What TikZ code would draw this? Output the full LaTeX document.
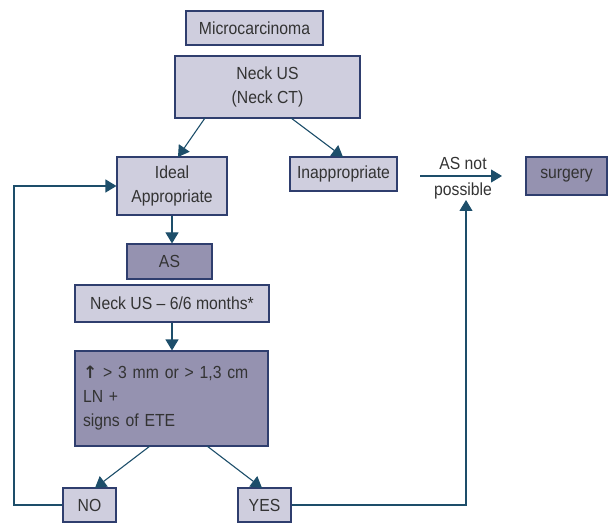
\documentclass[tikz,border=0pt]{standalone}
\usepackage{fontspec}
\setmainfont{Liberation Sans}[FakeStretch=0.9]
\newfontfamily\arrowfont{DejaVu Sans}
\usetikzlibrary{arrows.meta}
\definecolor{lightbox}{HTML}{CFCEDE}
\definecolor{darkbox}{HTML}{9592B0}
\definecolor{boxedge}{HTML}{2F3E6E}
\definecolor{arrowc}{HTML}{1D4E6A}
\definecolor{txt}{HTML}{333333}
\begin{document}
\begin{tikzpicture}[x=1pt,y=-1pt,
  every node/.style={font=\fontsize{17.5}{24}\selectfont, text=txt},
  lbox/.style={draw=boxedge, line width=1.1pt, fill=lightbox, inner sep=0pt, align=center},
  dbox/.style={draw=boxedge, line width=1.1pt, fill=darkbox, inner sep=0pt, align=center},
  conn/.style={draw=arrowc, line width=1.1pt},
  arr/.style={conn, -{Triangle[length=11pt,width=13pt]}}]
\useasboundingbox (0,0) rectangle (609,526);
\node[lbox, minimum width=137pt, minimum height=34pt] (micro) at (254.5,28) {Microcarcinoma};
\node[lbox, minimum width=185pt, minimum height=62pt] (neck) at (267.5,87) {Neck US\\(Neck CT)};
\node[lbox, minimum width=110pt, minimum height=58pt] (ideal) at (172,186) {Ideal\\Appropriate};
\node[lbox, minimum width=107pt, minimum height=34pt] (inapp) at (343.5,174) {Inappropriate};
\node[dbox, minimum width=81pt, minimum height=38pt] (surg) at (566.5,176) {surgery};
\node[dbox, minimum width=85pt, minimum height=35pt] (as) at (169.5,261.5) {AS};
\node[lbox, minimum width=194pt, minimum height=37pt] (nus) at (172,303.5) {Neck US -- 6/6 months*};
\node[dbox, minimum width=193pt, minimum height=95pt, text width=177pt, inner xsep=8pt, align=left] (big) at (171.5,398.5)
  {{\arrowfont\bfseries\fontsize{17}{24}\selectfont ↑} > 3 mm or > 1,3 cm\\LN +\\signs of ETE};
\node[lbox, minimum width=53pt, minimum height=34pt] (no) at (89.5,505) {NO};
\node[lbox, minimum width=53pt, minimum height=34pt] (yes) at (264.5,505) {YES};
\coordinate (asA) at (420,176);
\coordinate (asB) at (502,176);
\coordinate (yesUp) at (466,200);
\node[anchor=south] (asnot) at (463,173) {AS not};
\node[anchor=north] (poss) at (463,179) {possible};
\draw[arr] (asA) -- (asB);
\draw[arr] (205,118) -- (178,157);
\draw[arr] (291,118) -- (343,157);
\draw[arr] (ideal.south) -- (ideal.south |- as.north);
\draw[arr] (nus.south) -- (nus.south |- big.north);
\draw[arr] (150,446) -- (95,488);
\draw[arr] (207,446) -- (262,488);
\draw[arr] (no.west) -- (14,505) |- (ideal.west);
\draw[arr] (yes.east) -| (yesUp);
\end{tikzpicture}
\end{document}
